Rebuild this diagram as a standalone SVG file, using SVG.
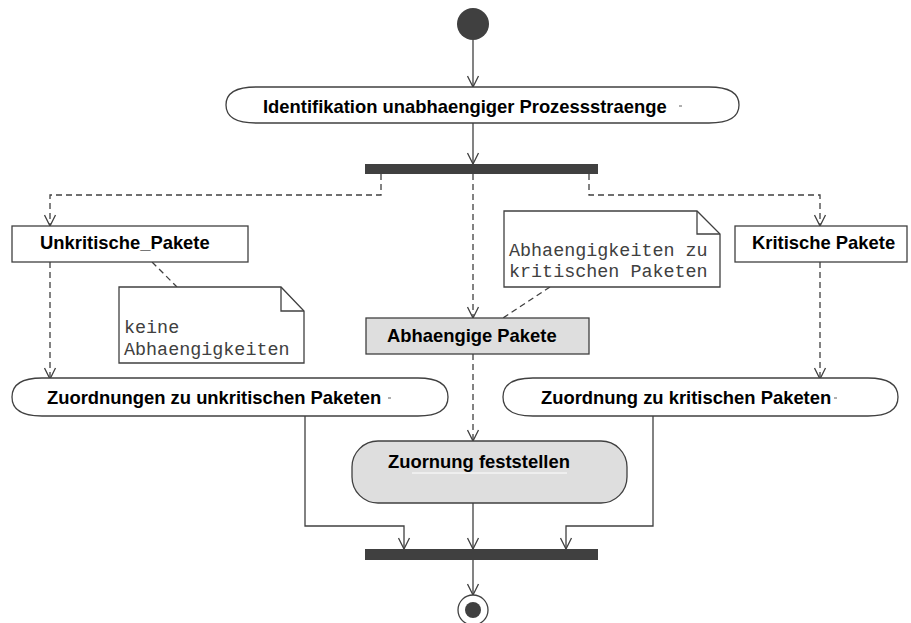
<svg xmlns="http://www.w3.org/2000/svg" width="911" height="623" viewBox="0 0 911 623">
  <style>
    .edge { fill: none; stroke: #404040; stroke-width: 1.3; }
    .dash { stroke-dasharray: 6 4; }
    .box { fill: #ffffff; stroke: #404040; stroke-width: 1.3; }
    .grey { fill: #dedede; }
    .bar { fill: #404040; }
    .lbl { font-family: "Liberation Sans", Arial, sans-serif; font-weight: bold; font-size: 18.4px; fill: #000000; }
    .mono { font-family: "Liberation Mono", "Courier New", monospace; font-size: 18.4px; fill: #404040; }
    .tick { stroke: #606060; stroke-width: 1; }
  </style>
  <defs>
    <marker id="arrow" markerUnits="userSpaceOnUse" markerWidth="13" markerHeight="13" viewBox="0 0 13 13" refX="12" refY="6.5" orient="auto">
      <path d="M1,1 L12,6.5 L1,12" fill="none" stroke="#404040" stroke-width="1.3" stroke-dasharray="none"/>
    </marker>
  </defs>

  <rect width="911" height="623" fill="#ffffff"/>

  <!-- connectors -->
  <g id="connectors">
    <path class="edge" d="M473,40 V87" marker-end="url(#arrow)"/>
    <path class="edge" d="M473,123 V164" marker-end="url(#arrow)"/>
    <path class="edge dash" d="M381,174 V195 H50 V226" marker-end="url(#arrow)"/>
    <path class="edge dash" d="M473,174 V318" marker-end="url(#arrow)"/>
    <path class="edge dash" d="M589,174 V195 H820 V226" marker-end="url(#arrow)"/>
    <path class="edge dash" d="M50,262 V379" marker-end="url(#arrow)"/>
    <path class="edge dash" d="M820,262 V379" marker-end="url(#arrow)"/>
    <path class="edge dash" d="M473,354 V441" marker-end="url(#arrow)"/>
    <path class="edge" d="M305,416 V526 H404 V549" marker-end="url(#arrow)"/>
    <path class="edge" d="M473,503 V549" marker-end="url(#arrow)"/>
    <path class="edge" d="M653,416 V526 H566 V549" marker-end="url(#arrow)"/>
    <path class="edge" d="M473,560 V595" marker-end="url(#arrow)"/>
    <path class="edge dash" d="M152,262 L177,287"/>
    <path class="edge dash" d="M550,287 L503,318"/>
  </g>

  <!-- initial node -->
  <g id="start">
    <circle cx="473" cy="24" r="16" fill="#404040"/>
  </g>

  <!-- first action -->
  <g id="identifikation">
    <path class="box" d="M256,87 H709 C735,87 739,97 739,105 C739,113 735,123 709,123 H256 C230,123 226,113 226,105 C226,97 230,87 256,87 Z"/>
    <text class="lbl" x="263" y="113">Identifikation unabhaengiger Prozessstraenge</text>
    <line class="tick" x1="679" y1="106" x2="682" y2="106"/>
  </g>

  <!-- fork bar -->
  <g id="fork">
    <rect class="bar" x="365" y="164" width="233" height="10"/>
  </g>

  <!-- object nodes -->
  <g id="unkritische">
    <rect class="box" x="12" y="226" width="236" height="36"/>
    <text class="lbl" x="40" y="249">Unkritische_Pakete</text>
  </g>

  <g id="abhaengige">
    <rect class="box grey" x="366" y="318" width="223" height="36"/>
    <text class="lbl" x="387" y="342">Abhaengige Pakete</text>
  </g>

  <g id="kritische">
    <rect class="box" x="735" y="226" width="172" height="36"/>
    <text class="lbl" x="752" y="249">Kritische Pakete</text>
  </g>

  <!-- notes -->
  <g id="note-keine">
    <path class="box" d="M119,287 H281 L304,311 V363 H119 Z"/>
    <path class="edge" d="M281,287 V311 H304"/>
    <text class="mono" x="124" y="333">keine</text>
    <text class="mono" x="124" y="355">Abhaengigkeiten</text>
  </g>

  <g id="note-kritisch">
    <path class="box" d="M504,211 H697 L720,234 V287 H504 Z"/>
    <path class="edge" d="M697,211 V234 H720"/>
    <text class="mono" x="509" y="256">Abhaengigkeiten zu</text>
    <text class="mono" x="509" y="277">kritischen Paketen</text>
  </g>

  <!-- assignment actions -->
  <g id="zuordnungen-unkritisch">
    <path class="box" d="M42,378 H418 C444,378 448,389 448,397 C448,405 444,416 418,416 H42 C16,416 12,405 12,397 C12,389 16,378 42,378 Z"/>
    <text class="lbl" x="47" y="404">Zuordnungen zu unkritischen Paketen</text>
    <line class="tick" x1="388" y1="398" x2="391" y2="398"/>
  </g>

  <g id="zuordnung-kritisch">
    <path class="box" d="M533,378 H868 C894,378 898,389 898,397 C898,405 894,416 868,416 H533 C507,416 503,405 503,397 C503,389 507,378 533,378 Z"/>
    <text class="lbl" x="541" y="404">Zuordnung zu kritischen Paketen</text>
    <line class="tick" x1="834" y1="398" x2="837" y2="398"/>
  </g>

  <g id="feststellen">
    <rect class="box grey" x="352" y="441" width="275" height="62" rx="26" ry="26"/>
    <text class="lbl" x="388" y="468">Zuornung feststellen</text>
    <line x1="412" y1="473" x2="567" y2="473" stroke="#ffffff" stroke-width="1"/>
  </g>

  <!-- join bar -->
  <g id="join">
    <rect class="bar" x="365" y="549" width="233" height="11"/>
  </g>

  <!-- final node -->
  <g id="end">
    <circle cx="473" cy="610" r="15" fill="#ffffff" stroke="#404040" stroke-width="1.3"/>
    <circle cx="473" cy="610" r="8" fill="#404040"/>
  </g>
</svg>
